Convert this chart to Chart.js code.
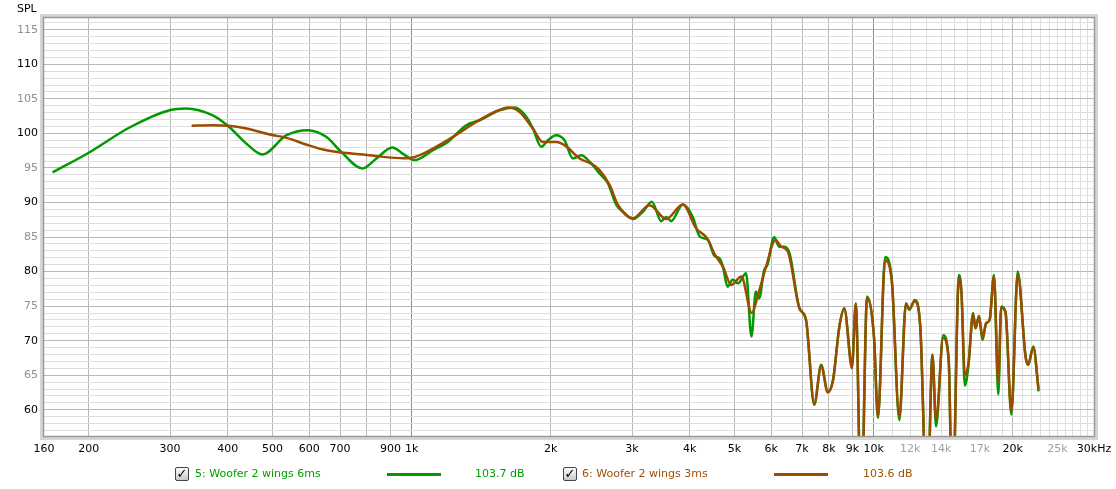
<!DOCTYPE html>
<html lang="en">
<head>
<meta charset="UTF-8" />
<title>SPL</title>
<script src="https://cdn.jsdelivr.net/npm/chart.js@4.4.1/dist/chart.umd.min.js"></script>
<style>
  body { margin: 0; background: #fff; font-family: "DejaVu Sans", sans-serif; font-size: 11px; }
  #wrap { position: relative; width: 1116px; height: 489px; overflow: hidden; }
  #spl { position: absolute; left: 17px; top: 2px; color: #000; }
  .txt { position: absolute; top: 467px; line-height: 14px; white-space: nowrap; }
  .box { position: absolute; top: 467px; width: 12px; height: 12px; border: 1px solid #444; border-radius: 2px;
         background: linear-gradient(#fdfdfd, #c8c8c8); color: #000; font-size: 13px; line-height: 12px;
         text-align: center; font-weight: bold; }
  .swatch { position: absolute; top: 473px; height: 3px; }
</style>
</head>
<body>
<div id="wrap">
  <canvas id="myChart" width="1116" height="489"></canvas>
  <div id="spl">SPL</div>
  <div class="box" style="left:175px">✓</div>
  <div class="txt" style="left:195px;color:#00a000">5: Woofer 2 wings 6ms</div>
  <div class="swatch" style="left:387px;width:54px;background:#009900"></div>
  <div class="txt" style="left:475px;color:#00a000">103.7 dB</div>
  <div class="box" style="left:563px">✓</div>
  <div class="txt" style="left:582px;color:#a05000">6: Woofer 2 wings 3ms</div>
  <div class="swatch" style="left:774px;width:54px;background:#9c4c00"></div>
  <div class="txt" style="left:863px;color:#a05000">103.6 dB</div>
</div>

<script>
// woofer 2 wings, 6ms gate (green)
const freq6ms = [167, 200, 245, 299, 325, 371, 400, 439, 475, 536, 596, 653, 704, 782, 839, 908, 960, 1015,
  1112, 1198, 1313, 1403, 1550, 1671, 1771, 1830, 1908, 1972, 2055, 2143, 2233, 2330, 2428, 2551, 2660,
  2776, 2868, 3013, 3166, 3311, 3469, 3557, 3646, 3864, 4060, 4200, 4375, 4520, 4640, 4718, 4830, 4955,
  5085, 5295, 5440, 5560, 5652, 5795, 5890, 6090, 6250, 6410, 6580, 6910, 7140, 7440, 7700, 7960, 8170,
  8430, 8640, 8980, 9150, 9400, 9680, 10020, 10220, 10590, 10950, 11370, 11750, 11950, 12280, 12620,
  13060, 13410, 13650, 14150, 14540, 14810, 15300, 15500, 15760, 16050, 16420, 16620, 16910, 17210,
  17520, 17830, 18220, 18620, 18890, 19300, 19870, 20510, 21330, 21600, 22170, 22760];
const spl6ms = [94.35, 97.2, 100.85, 103.35, 103.6, 102.6, 101.1, 98.5, 96.95, 99.74, 100.46, 99.5, 97.33,
  94.93, 96.37, 97.96, 97.0, 96.13, 97.57, 98.77, 101.18, 101.9, 103.35, 103.74, 102.4, 100.7, 98.06, 99.0,
  99.74, 99.0, 96.37, 96.85, 95.9, 94.2, 92.76, 89.6, 88.66, 87.6, 88.66, 90.1, 87.3, 87.9, 87.3, 89.7, 87.9,
  85.1, 84.6, 82.3, 81.9, 80.7, 77.8, 78.8, 78.3, 79.75, 70.6, 77.1, 76.1, 80.2, 80.95, 84.95, 83.6, 83.6,
  82.6, 74.7, 73.0, 60.7, 66.5, 62.65, 64.3, 72.0, 74.7, 66.5, 75.4, 45, 76.4, 70.5, 58.8, 82.1, 78.8, 58.5,
  75.4, 74.45, 75.9, 72.0, 45, 68.0, 57.6, 70.8, 67.2, 45, 79.5, 76.9, 63.5, 66.5, 74.0, 71.8, 73.6, 70.1,
  72.5, 73.0, 79.5, 62.2, 74.95, 74.2, 59.3, 80.0, 67.7, 66.5, 69.15, 62.65];

// woofer 2 wings, 3ms gate (brown)
const freq3ms = [334, 371, 400, 439, 493, 536, 591, 643, 704, 785, 867, 958, 1000, 1041, 1112, 1229, 1380,
  1525, 1616, 1713, 1830, 1923, 2055, 2143, 2310, 2448, 2551, 2683, 2799, 3013, 3273, 3557, 3864, 4130,
  4375, 4520, 4720, 4920, 5170, 5450, 5620, 5850, 6130, 6310, 6520, 6910, 7140, 7440, 7700, 7960, 8170,
  8430, 8640, 8980, 9150, 9400, 9680, 10020, 10220, 10590, 10950, 11370, 11750, 11950, 12280, 12620,
  13060, 13410, 13650, 14150, 14540, 14810, 15300, 15500, 15760, 16050, 16420, 16620, 16910, 17210,
  17520, 17830, 18220, 18620, 18890, 19300, 19870, 20510, 21330, 21600, 22170, 22760];
const spl3ms = [101.12, 101.18, 101.1, 100.7, 99.84, 99.35, 98.4, 97.67, 97.24, 96.95, 96.6, 96.4, 96.47,
  96.85, 97.8, 99.5, 101.66, 103.2, 103.74, 103.1, 100.7, 98.77, 98.77, 98.3, 96.37, 95.6, 94.68, 92.5,
  89.6, 87.7, 89.6, 87.6, 89.7, 86.25, 84.7, 82.6, 80.7, 78.06, 79.3, 74.0, 76.6, 80.7, 84.57, 83.6, 82.9,
  74.7, 73.0, 60.9, 66.3, 62.5, 64.3, 72.0, 74.6, 66.0, 75.3, 45, 76.2, 70.5, 59.0, 81.6, 78.6, 59.0, 75.3,
  74.6, 75.7, 72.0, 45, 67.8, 58.5, 70.4, 67.2, 45, 79.0, 76.7, 65.0, 66.8, 73.8, 71.8, 73.5, 70.4, 72.5,
  73.0, 79.3, 64.0, 74.8, 74.0, 59.8, 79.6, 67.7, 66.5, 69.0, 63.0];

// axis ticks
const xTickValues = [160, 200, 300, 400, 500, 600, 700, 800, 900, 1000, 2000, 3000, 4000, 5000, 6000, 7000,
  8000, 9000, 10000, 11000, 12000, 13000, 14000, 15000, 16000, 17000, 18000, 19000, 20000, 21000, 22000,
  23000, 24000, 25000, 26000, 27000, 28000, 29000, 30000];
const xLabelValues = [160, 200, 300, 400, 500, 600, 700, 900, 1000, 2000, 3000, 4000, 5000, 6000, 7000,
  8000, 9000, 10000, 12000, 14000, 17000, 20000, 25000, 30000];
const xLabelTexts = ['160', '200', '300', '400', '500', '600', '700', '900', '1k', '2k', '3k', '4k', '5k',
  '6k', '7k', '8k', '9k', '10k', '12k', '14k', '17k', '20k', '25k', '30kHz'];
const xGreyLabels = [12000, 14000, 17000, 25000];
const yMin = 56.2, yMax = 116.7;
const yTickValues = [];
for (let v = 57; v <= 116; v++) yTickValues.push(v);

const pts = (fs, ys) => fs.map((f, i) => ({ x: f, y: ys[i] }));

const framePlugin = {
  id: 'frame',
  afterDatasetsDraw(chart) {
    const { ctx, chartArea: a } = chart;
    ctx.save();
    ctx.strokeStyle = '#d6d6d6';
    ctx.lineWidth = 4;
    ctx.strokeRect(a.left - 2, a.top - 2, a.right - a.left + 4, a.bottom - a.top + 4);
    ctx.strokeStyle = '#9a9a9a';
    ctx.lineWidth = 1.5;
    ctx.strokeRect(a.left - 0.5, a.top - 0.5, a.right - a.left + 1, a.bottom - a.top + 1);
    ctx.restore();
  }
};

const ctx = document.getElementById('myChart');
new Chart(ctx, {
  type: 'line',
  data: {
    datasets: [
      { label: '5: Woofer 2 wings 6ms', data: pts(freq6ms, spl6ms), borderColor: '#009900', order: 1 },
      { label: '6: Woofer 2 wings 3ms', data: pts(freq3ms, spl3ms), borderColor: '#9c4c00', order: 0 }
    ]
  },
  options: {
    responsive: false,
    animation: false,
    devicePixelRatio: 1,
    layout: { padding: { top: 18, right: 22, bottom: 0, left: 0 } },
    elements: {
      point: { radius: 0 },
      line: { borderWidth: 2.5, cubicInterpolationMode: 'monotone', fill: false }
    },
    plugins: { legend: { display: false }, tooltip: { enabled: false } },
    scales: {
      x: {
        type: 'logarithmic',
        min: 160, max: 30000,
        border: { display: false },
        afterBuildTicks: s => { s.ticks = xTickValues.map(v => ({ value: v })); },
        afterFit: s => { s.height = 53; s.paddingLeft = 0; s.paddingRight = 0; },
        grid: {
          drawTicks: false,
          lineWidth: 1,
          color: c => {
            const v = c.tick.value;
            if (v === 160 || v === 30000) return 'rgba(0,0,0,0)';
            if (v === 1000 || v === 10000) return '#8a8a8a';
            if (v > 10000 && v !== 20000) return '#dedede';
            return '#b8b8b8';
          }
        },
        ticks: {
          autoSkip: false, maxRotation: 0, padding: 7,
          font: { family: 'DejaVu Sans', size: 11 },
          color: c => xGreyLabels.includes(c.tick.value) ? '#a0a0a0' : '#000',
          callback: v => { const i = xLabelValues.indexOf(v); return i < 0 ? '' : xLabelTexts[i]; }
        }
      },
      y: {
        min: yMin, max: yMax,
        border: { display: false },
        afterBuildTicks: s => { s.ticks = yTickValues.map(v => ({ value: v })); },
        afterFit: s => { s.width = 44; s.paddingTop = 0; s.paddingBottom = 0; },
        grid: {
          drawTicks: false,
          color: c => c.tick.value % 5 === 0 ? '#b8b8b8' : '#dedede'
        },
        ticks: {
          autoSkip: false, padding: 6,
          font: { family: 'DejaVu Sans', size: 11 },
          color: c => c.tick.value % 10 === 0 ? '#000' : '#909090',
          callback: v => v % 5 === 0 ? String(v) : ''
        }
      }
    }
  },
  plugins: [framePlugin]
});
</script>
</body>
</html>
